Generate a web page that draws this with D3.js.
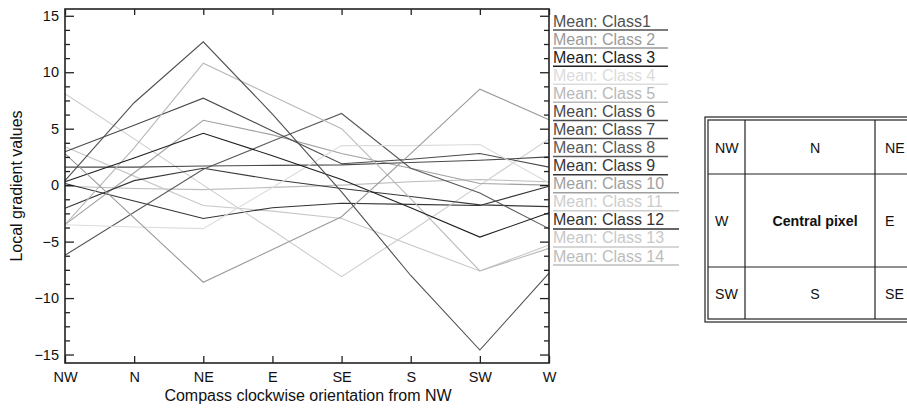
<!DOCTYPE html>
<html>
<head>
<meta charset="utf-8">
<script src="https://cdn.jsdelivr.net/npm/d3@7"></script>
<style>
  body { margin: 0; background: #fff; }
  svg { display: block; font-family: "Liberation Sans", Arial, sans-serif; }
  .axis path.domain { display: none; }
  .axis line { stroke: #222; stroke-width: 1.3; }
  .axis text { font-size: 14.5px; fill: #111; }
</style>
</head>
<body>
<svg id="chart" width="907" height="408"></svg>
<script>
// compass orientations (x categories)
const orientations = ["NW", "N", "NE", "E", "SE", "S", "SW", "W"];
const yTicks = [-15, -10, -5, 0, 5, 10, 15];

// class names and mean local gradient per orientation
const classNames = ["Mean: Class1", "Mean: Class 2", "Mean: Class 3", "Mean: Class 4", "Mean: Class 5",
  "Mean: Class 6", "Mean: Class 7", "Mean: Class 8", "Mean: Class 9", "Mean: Class 10",
  "Mean: Class 11", "Mean: Class 12", "Mean: Class 13", "Mean: Class 14"];
const class1  = [0.4, 7.3, 12.7, 6.3, -0.6, -8.0, -14.6, -7.8];
const class2  = [2.8, -2.9, -8.6, -5.7, -2.8, 2.8, 8.5, 5.8];
const class3  = [0.3, 2.4, 4.6, 2.6, 0.5, -2.0, -4.6, -2.45];
const class4  = [-3.5, -3.7, -3.85, -0.2, 3.5, 3.5, 3.6, 0.2];
const class5  = [-3.5, 3.3, 10.8, 7.9, 5.0, -1.2, -7.6, -5.6];
const class6  = [2.95, 5.3, 7.7, 4.8, 1.9, 2.3, 2.8, 1.6];
const class7  = [1.6, 1.6, 1.7, 1.75, 1.8, 2.0, 2.2, 2.5];
const class8  = [-6.2, -2.4, 1.4, 3.9, 6.35, 1.5, -0.7, -3.85];
const class9  = [-2.05, 0.4, 1.5, 0.5, -0.3, -1.0, -1.75, -1.9];
const class10 = [-3.5, 1.1, 5.75, 4.45, 2.8, 1.5, 0.15, 0.0];
const class11 = [8.1, 4.1, 0.0, -4.0, -8.1, -4.1, 0.0, 4.1];
const class12 = [0.15, -1.4, -2.95, -2.0, -1.6, -1.7, -1.8, -0.1];
const class13 = [3.4, 0.8, -1.8, -2.3, -2.95, -5.3, -7.6, -5.3];
const class14 = [-0.1, -0.3, -0.4, -0.2, 0.0, 0.3, 0.5, 0.3];
const classColors = ["#505050", "#9a9a9a", "#1e1e1e", "#dcdcdc", "#b8b8b8", "#4a4a4a", "#4a4a4a",
  "#5a5a5a", "#383838", "#a0a0a0", "#cdcdcd", "#333333", "#c8c8c8", "#bcbcbc"];

// 3x3 neighbourhood table
const gridRows = [["NW", "N", "NE"], ["W", "Central pixel", "E"], ["SW", "S", "SE"]];

const series = [class1, class2, class3, class4, class5, class6, class7, class8, class9,
  class10, class11, class12, class13, class14].map((v, i) => ({name: classNames[i], color: classColors[i], values: v}));

const svg = d3.select("#chart");
const plot = {left: 65, right: 549, top: 9, bottom: 363};

const x = d3.scalePoint().domain(orientations).range([plot.left, plot.right]);
const y = d3.scaleLinear().domain([-15.75, 15.6]).range([plot.bottom, plot.top]);
const minorTicks = d3.range(-15, 15.01, 1.25).filter(t => yTicks.indexOf(t) < 0);

// lines first, frame on top
const line = d3.line().x((d, i) => x(orientations[i])).y(d => y(d));
svg.append("g").selectAll("path")
  .data(series.slice().reverse())
  .join("path")
  .attr("d", d => line(d.values))
  .attr("fill", "none")
  .attr("stroke", d => d.color)
  .attr("stroke-width", 1.1);

svg.append("g").attr("class", "axis")
  .attr("transform", `translate(${plot.left},0)`)
  .call(d3.axisLeft(y).tickValues(yTicks).tickSize(-9).tickPadding(6).tickFormat(d => d < 0 ? "\u2212" + Math.abs(d) : d));
svg.append("g").attr("class", "axis")
  .attr("transform", `translate(${plot.left},0)`)
  .call(d3.axisLeft(y).tickValues(minorTicks).tickSize(-5).tickFormat(""));
svg.append("g").attr("class", "axis")
  .attr("transform", `translate(${plot.right},0)`)
  .call(d3.axisRight(y).tickValues(yTicks).tickSize(-9).tickFormat(""));
svg.append("g").attr("class", "axis")
  .attr("transform", `translate(${plot.right},0)`)
  .call(d3.axisRight(y).tickValues(minorTicks).tickSize(-5).tickFormat(""));
svg.append("g").attr("class", "axis")
  .attr("transform", `translate(0,${plot.bottom})`)
  .call(d3.axisBottom(x).tickSize(-7).tickPadding(9));
svg.append("g").attr("class", "axis")
  .attr("transform", `translate(0,${plot.top})`)
  .call(d3.axisTop(x).tickSize(-6).tickFormat(""));

svg.append("rect")
  .attr("x", plot.left).attr("y", plot.top)
  .attr("width", plot.right - plot.left).attr("height", plot.bottom - plot.top)
  .attr("fill", "none").attr("stroke", "#222").attr("stroke-width", 1.6);

svg.append("text")
  .attr("x", (plot.left + plot.right) / 2 + 1).attr("y", 401)
  .attr("text-anchor", "middle").style("font-size", "16px").style("fill", "#111")
  .text("Compass clockwise orientation from NW");
svg.append("text")
  .attr("transform", `translate(22,${(plot.top + plot.bottom) / 2}) rotate(-90)`)
  .attr("text-anchor", "middle").style("font-size", "16px").style("fill", "#111")
  .text("Local gradient values");

// legend: label with a coloured underline
const legend = svg.append("g").selectAll("g")
  .data(series)
  .join("g")
  .attr("transform", (d, i) => `translate(553,${30 + i * 18.08})`);
legend.append("line")
  .attr("x1", 0).attr("y1", 0)
  .attr("x2", (d, i) => i < 9 ? 115 : 126).attr("y2", 0)
  .attr("stroke", d => d.color).attr("stroke-width", 1.5);
legend.append("text")
  .attr("x", 0).attr("y", -3.5)
  .style("font-size", "16px")
  .style("fill", d => d.color)
  .text(d => d.name);

// neighbourhood table
const colX = [708, 745, 875, 960];
const rowY = [120, 174, 267, 319];
const table = svg.append("g");
table.append("rect").attr("x", 705).attr("y", 117).attr("width", 260).attr("height", 205)
  .attr("fill", "none").attr("stroke", "#222").attr("stroke-width", 1.2);
table.append("rect").attr("x", colX[0]).attr("y", rowY[0]).attr("width", 250).attr("height", rowY[3] - rowY[0])
  .attr("fill", "none").attr("stroke", "#222").attr("stroke-width", 1.2);
table.selectAll(".vline").data(colX.slice(1, 3)).join("line")
  .attr("x1", d => d).attr("x2", d => d).attr("y1", rowY[0]).attr("y2", rowY[3])
  .attr("stroke", "#222").attr("stroke-width", 1.2);
table.selectAll(".hline").data(rowY.slice(1, 3)).join("line")
  .attr("x1", colX[0]).attr("x2", 960).attr("y1", d => d).attr("y2", d => d)
  .attr("stroke", "#222").attr("stroke-width", 1.2);

gridRows.forEach((row, r) => {
  row.forEach((label, c) => {
    const cy = (rowY[r] + rowY[r + 1]) / 2;
    const centred = c === 1;
    table.append("text")
      .attr("x", c === 0 ? 715 : c === 1 ? 815 : 885)
      .attr("y", cy + 1).attr("dy", "0.35em")
      .attr("text-anchor", centred ? "middle" : "start")
      .style("font-size", "14.2px")
      .style("font-weight", label === "Central pixel" ? "bold" : "normal")
      .style("fill", "#111")
      .text(label);
  });
});
</script>
</body>
</html>
